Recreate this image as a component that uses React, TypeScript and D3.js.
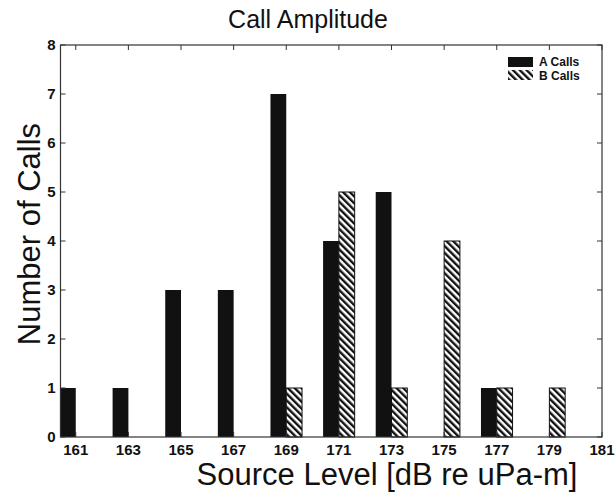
import React from "react";
import * as d3 from "d3";

const levels = [161, 163, 165, 167, 169, 171, 173, 175, 177, 179];
const aCalls = [1, 1, 3, 3, 7, 4, 5, 0, 1, 0];
const bCalls = [0, 0, 0, 0, 1, 5, 1, 4, 1, 1];
const xTicks = [161, 163, 165, 167, 169, 171, 173, 175, 177, 179, 181];
const yTicks = [0, 1, 2, 3, 4, 5, 6, 7, 8];
const seriesNames = ["A Calls", "B Calls"];

const W = 616;
const H = 494;
const left = 60.5;
const right = 602;
const top = 45;
const bottom = 437;
const barW = 0.6;
const font = "'Liberation Sans', Arial, Helvetica, sans-serif";

export default function App() {
  const x = d3.scaleLinear().domain([160.42, 181]).range([left, right]);
  const y = d3.scaleLinear().domain([0, 8]).range([bottom, top]);
  const tickLen = 5;

  return (
    <svg
      width={W}
      height={H}
      style={{ position: "absolute", left: 0, top: 0, background: "#fff" }}
      fontFamily={font}
    >
      <defs>
        <pattern
          id="hatch"
          patternUnits="userSpaceOnUse"
          width={4.8}
          height={4.8}
          patternTransform="rotate(-45)"
        >
          <rect x={0} y={0} width={4.8} height={4.8} fill="#fff" />
          <rect x={0} y={0} width={2.4} height={4.8} fill="#111" />
        </pattern>
      </defs>
      <rect width={W} height={H} fill="#fff" />

      {/* bars */}
      {levels.map((lv, i) =>
        aCalls[i] > 0 ? (
          <rect
            key={"a" + lv}
            x={x(lv - barW)}
            y={y(aCalls[i])}
            width={x(lv) - x(lv - barW)}
            height={y(0) - y(aCalls[i])}
            fill="#111"
          />
        ) : null
      )}
      {levels.map((lv, i) =>
        bCalls[i] > 0 ? (
          <rect
            key={"b" + lv}
            x={x(lv)}
            y={y(bCalls[i])}
            width={x(lv + barW) - x(lv)}
            height={y(0) - y(bCalls[i])}
            fill="url(#hatch)"
            stroke="#111"
            strokeWidth={1}
          />
        ) : null
      )}

      {/* axes box */}
      <rect
        x={left}
        y={top}
        width={right - left}
        height={bottom - top}
        fill="none"
        stroke="#333"
        strokeWidth={1.2}
      />
      {xTicks.map((t) => (
        <g key={"xt" + t}>
          <line x1={x(t)} x2={x(t)} y1={bottom} y2={bottom - tickLen} stroke="#333" />
          <line x1={x(t)} x2={x(t)} y1={top} y2={top + tickLen} stroke="#333" />
          <text
            x={x(t)}
            y={bottom + 18}
            textAnchor="middle"
            fontSize={15}
            fontWeight="bold"
            fill="#111"
          >
            {t}
          </text>
        </g>
      ))}
      {yTicks.map((t) => (
        <g key={"yt" + t}>
          <line x1={left} x2={left + tickLen} y1={y(t)} y2={y(t)} stroke="#333" />
          <line x1={right} x2={right - tickLen} y1={y(t)} y2={y(t)} stroke="#333" />
          <text
            x={left - 5}
            y={y(t) + 5}
            textAnchor="end"
            fontSize={15}
            fontWeight="bold"
            fill="#111"
          >
            {t}
          </text>
        </g>
      ))}

      {/* legend */}
      <rect x={508} y={57} width={25} height={10} fill="#111" />
      <rect x={508} y={70} width={25} height={10} fill="url(#hatch)" />
      <text x={539} y={66} fontSize={12} fontWeight="bold" fill="#111">
        {seriesNames[0]}
      </text>
      <text x={539} y={80} fontSize={12} fontWeight="bold" fill="#111">
        {seriesNames[1]}
      </text>

      {/* titles */}
      <text x={308} y={28} textAnchor="middle" fontSize={25} fill="#111">
        Call Amplitude
      </text>
      <text x={387} y={485} textAnchor="middle" fontSize={31} fill="#111">
        Source Level [dB re uPa-m]
      </text>
      <text
        transform={`translate(40, 234) rotate(-90)`}
        textAnchor="middle"
        fontSize={31}
        fill="#111"
      >
        Number of Calls
      </text>
    </svg>
  );
}
